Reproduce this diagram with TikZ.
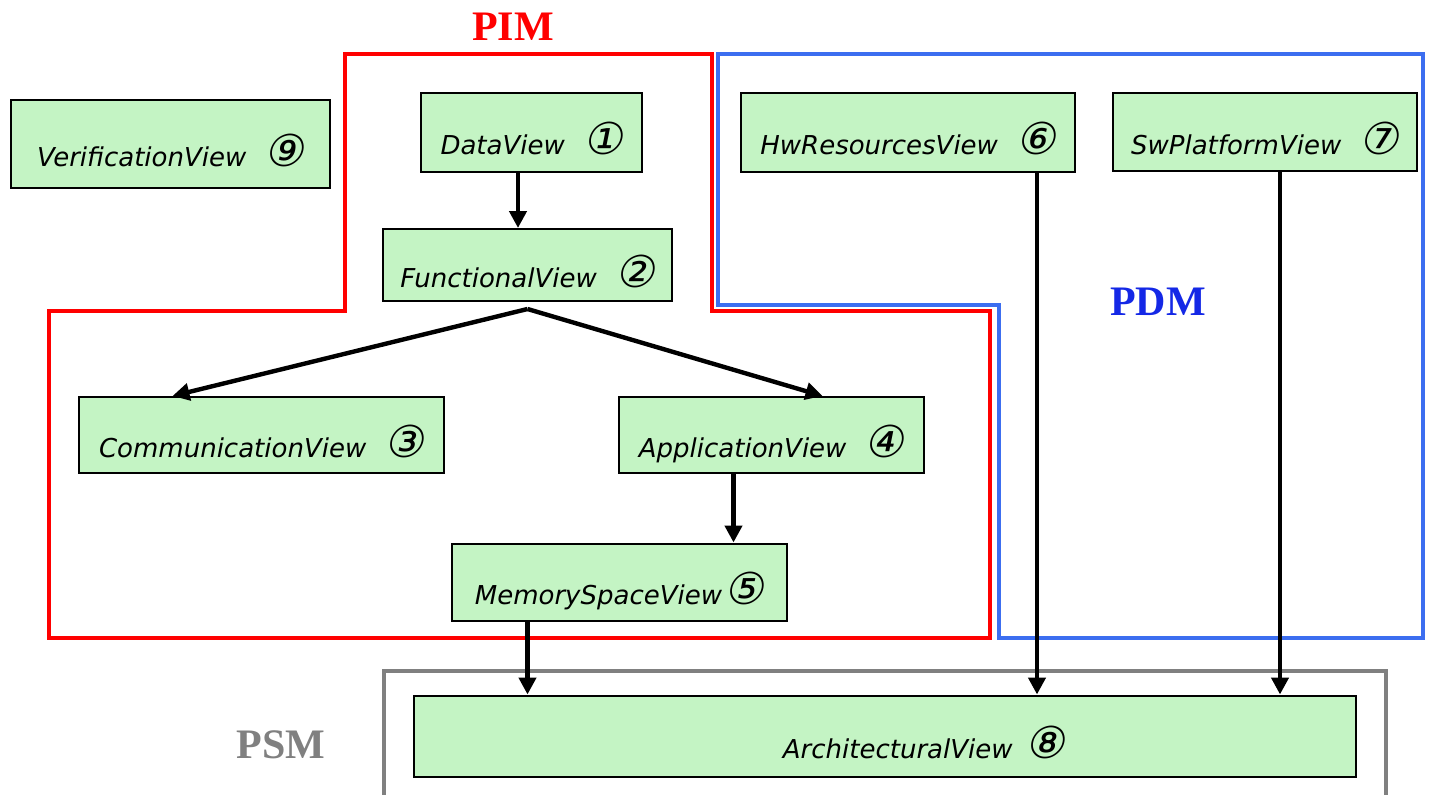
\documentclass[tikz,border=0pt]{standalone}
\usepackage{fontspec}
\usetikzlibrary{arrows.meta}
\newfontfamily\boxfont{DejaVu Sans}
\newfontfamily\circfont{DejaVu Sans}[FakeSlant=0.2]
\newfontfamily\titlefont{Liberation Serif}
\definecolor{boxgreen}{RGB}{196,244,196}
\definecolor{pimred}{RGB}{255,0,0}
\definecolor{pdmblue}{RGB}{60,110,240}
\definecolor{pdmtext}{RGB}{20,40,230}
\definecolor{psmgray}{RGB}{128,128,128}
\newcommand{\cnum}[1]{{\circfont\upshape\fontsize{22}{22}\selectfont #1}}
\begin{document}
\begin{tikzpicture}[x=0.5pt,y=-0.5pt,
  viewbox/.style={draw=black, line width=1pt, fill=boxgreen, inner sep=0pt,
    text height=22pt, text depth=0pt,
    font=\boxfont\itshape\fontsize{13}{15}\selectfont},
  arr/.style={line width=2.2pt, -{Triangle[length=8.5pt,width=8.5pt]}},
  title/.style={font=\titlefont\bfseries\fontsize{21}{24}\selectfont, inner sep=0pt},
  zone/.style={line width=2pt}]
\useasboundingbox (0,0) rectangle (1430,794);

% zones
\draw[zone, pimred] (345,54) -- (712,54) -- (712,311) -- (990,311) -- (990,638)
  -- (49,638) -- (49,311) -- (345,311) -- cycle;
\draw[zone, pdmblue] (718,54) -- (1423,54) -- (1423,638) -- (999,638) -- (999,305)
  -- (718,305) -- cycle;
\draw[zone, psmgray] (384,800) -- (384,671) -- (1386,671) -- (1386,800);

\node[title, text=pimred] (pim) at (513,27) {PIM};
\node[title, text=pdmtext] (pdm) at (1158,302) {PDM};
\node[title, text=psmgray] (psm) at (281,745) {PSM};

% views
\node[viewbox, minimum width=159.5pt, minimum height=44pt] (ver) at (170.5,144) {VerificationView\hspace{0.7em}\cnum{⑨}};
\node[viewbox, minimum width=110.5pt, minimum height=39.5pt] (data) at (531.5,132.5) {DataView\hspace{0.7em}\cnum{①}};
\node[viewbox, minimum width=144.5pt, minimum height=36pt] (func) at (527.5,265) {FunctionalView\hspace{0.7em}\cnum{②}};
\node[viewbox, minimum width=182.5pt, minimum height=38pt] (comm) at (261.5,435) {CommunicationView\hspace{0.7em}\cnum{③}};
\node[viewbox, minimum width=152.5pt, minimum height=38pt] (app) at (771.5,435) {ApplicationView\hspace{0.7em}\cnum{④}};
\node[viewbox, minimum width=167.5pt, minimum height=38.5pt] (mem) at (619.5,582) {MemorySpaceView\hspace{0.1em}\cnum{⑤}};
\node[viewbox, minimum width=167pt, minimum height=39.5pt] (hw) at (908,132.5) {HwResourcesView\hspace{0.7em}\cnum{⑥}};
\node[viewbox, minimum width=152pt, minimum height=39pt] (sw) at (1265,132) {SwPlatformView\hspace{0.7em}\cnum{⑦}};
\node[viewbox, minimum width=471pt, minimum height=40.5pt] (arch) at (885,736) {\hspace*{39pt}ArchitecturalView\hspace{0.5em}\cnum{⑧}};

% connectors
\coordinate (fs) at ([yshift=-3.5pt]func.south);
\draw[arr] ([xshift=-6.75pt]data.south) -- ([xshift=-6.75pt]data.south |- func.north);
\draw[arr] (fs) -- ([xshift=-44.5pt]comm.north);
\draw[arr] (fs) -- ([xshift=25.5pt]app.north);
\draw[arr] ([xshift=-19pt]app.south) -- ([xshift=-19pt]app.south |- mem.north);
\draw[arr] ([xshift=-46pt]mem.south) -- ([xshift=-46pt]mem.south |- arch.north);
\draw[arr] ([xshift=64.5pt]hw.south) -- ([xshift=64.5pt]hw.south |- arch.north);
\draw[arr] ([xshift=7.5pt]sw.south) -- ([xshift=7.5pt]sw.south |- arch.north);
\end{tikzpicture}
\end{document}
